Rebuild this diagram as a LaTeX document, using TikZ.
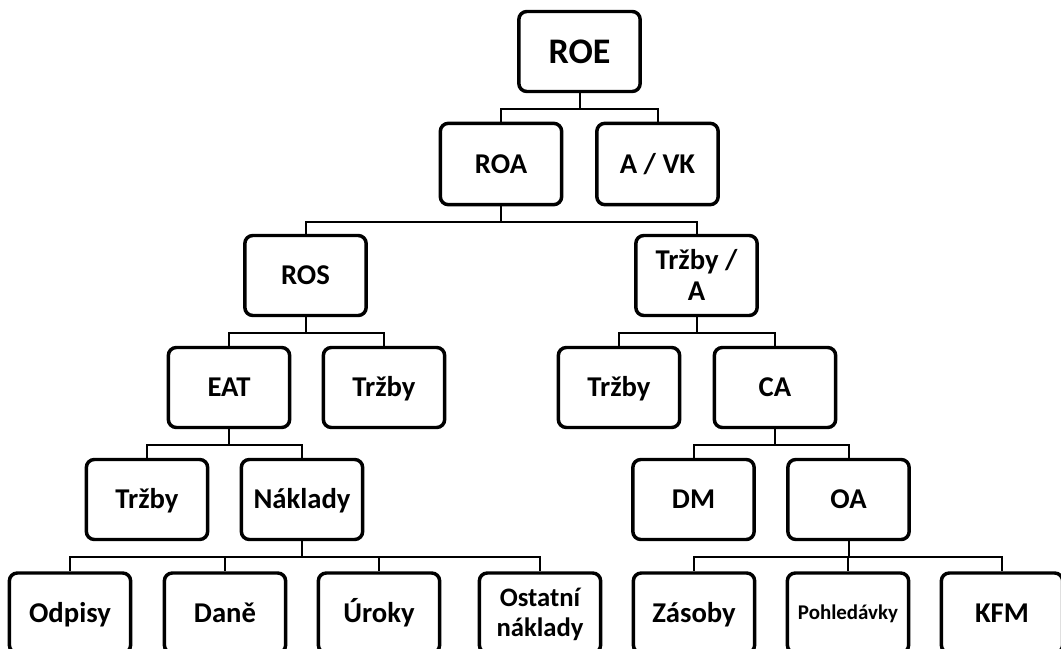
\documentclass[tikz,border=0pt]{standalone}
\usepackage{fontspec}
\setmainfont{Carlito}
\tikzset{
  box/.style={draw,line width=2.6pt,rounded corners=6pt,minimum width=91pt,minimum height=60pt,
    align=center,text height=13.8pt,text depth=0pt,font=\bfseries\fontsize{21.5}{23}\selectfont},
  link/.style={line width=1.5pt}
}
\begin{document}
\begin{tikzpicture}[x=0.75pt,y=-0.75pt]
\useasboundingbox (0,0) rectangle (1061,649);
\clip (0,0) rectangle (1061,649);
% top
\node[box,text height=17.4pt,font=\bfseries\fontsize{27}{30}\selectfont] (roe) at (579.5,51.5) {ROE};
\node[box,minimum height=61pt] (roa) at (501,164) {ROA};
\node[box,minimum height=61pt] (avk) at (657.5,164) {A / VK};
\node[box] (ros) at (305.5,275.5) {ROS};
\node[box,text height=36.8pt] (ta) at (696.5,275.5) {Tržby /\\A};
% left branch
\node[box] (eat) at (229,387.5) {EAT};
\node[box] (trzbyA) at (384,387.5) {Tržby};
\node[box] (trzbyB) at (147,499.5) {Tržby};
\node[box] (naklady) at (302,499.5) {Náklady};
\node[box] (odpisy) at (70,613) {Odpisy};
\node[box] (dane) at (225,613) {Daně};
\node[box] (uroky) at (379,613) {Úroky};
\node[box,text height=34.5pt,font=\bfseries\fontsize{20}{22}\selectfont] (ostatni) at (540,613) {Ostatní\\náklady};
% right branch
\node[box] (trzbyC) at (619,387.5) {Tržby};
\node[box] (ca) at (775,387.5) {CA};
\node[box] (dm) at (693.5,499.5) {DM};
\node[box] (oa) at (848.5,499.5) {OA};
\node[box] (zasoby) at (694,613) {Zásoby};
\node[box,text height=10.1pt,font=\bfseries\fontsize{15.7}{18}\selectfont] (pohl) at (848,613) {Pohledávky};
\node[box] (kfm) at (1002,613) {KFM};
% connectors
\foreach \p/\c in {roe/roa,roe/avk,roa/ros,roa/ta,ros/eat,ros/trzbyA,eat/trzbyB,eat/naklady,
    naklady/odpisy,naklady/dane,naklady/uroky,naklady/ostatni,ta/trzbyC,ta/ca,ca/dm,ca/oa,
    oa/zasoby,oa/pohl,oa/kfm}
  \draw[link] (\p.south) -- ++(0,-11.5pt) -| (\c.north);
\end{tikzpicture}
\end{document}
